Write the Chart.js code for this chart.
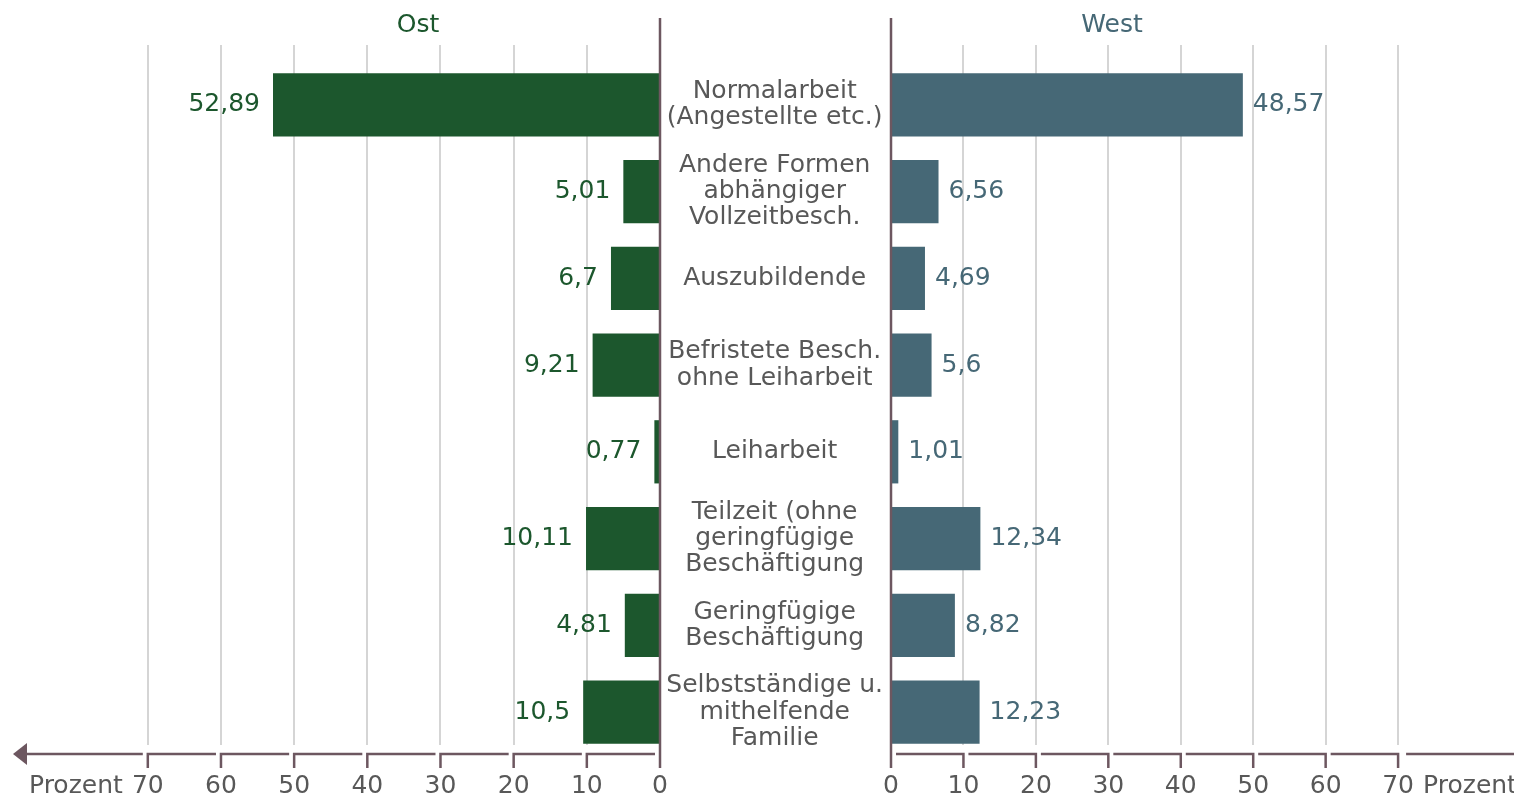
<!DOCTYPE html>
<html lang="de">
<head>
<meta charset="UTF-8">
<title>Beschäftigungsformen Ost / West</title>
<script src="https://cdn.jsdelivr.net/npm/chart.js"></script>
<style>
  body { margin: 0; background: #fff; }
  #wrap { position: relative; width: 1514px; height: 799px; overflow: hidden; }
  canvas { position: absolute; top: 0; }
  #ostChart { left: 0; }
  #westChart { left: 662px; }
</style>
</head>
<body>
<div id="wrap">
  <canvas id="ostChart" width="680" height="799"></canvas>
  <canvas id="westChart" width="852" height="799"></canvas>
</div>
<script>
const categories = [
  ['Normalarbeit', '(Angestellte etc.)'],
  ['Andere Formen', 'abhängiger', 'Vollzeitbesch.'],
  ['Auszubildende'],
  ['Befristete Besch.', 'ohne Leiharbeit'],
  ['Leiharbeit'],
  ['Teilzeit (ohne', 'geringfügige', 'Beschäftigung'],
  ['Geringfügige', 'Beschäftigung'],
  ['Selbstständige u.', 'mithelfende', 'Familie']
];
const ostValues = [52.89, 5.01, 6.7, 9.21, 0.77, 10.11, 4.81, 10.5];
const westValues = [48.57, 6.56, 4.69, 5.6, 1.01, 12.34, 8.82, 12.23];
const axisTicks = [0, 10, 20, 30, 40, 50, 60, 70];

const FONT = "'DejaVu Sans', sans-serif";
const FSIZE = 25;
const MAROON = '#6d5760';
const OST = '#1c572d';
const WEST = '#466876';
const GREY_TEXT = '#585858';
const GRID = '#d5d5d5';

const fmt = v => String(v).replace('.', ',');

// y is a linear index axis so the gridlines can run above the first bar
function yScale(show) {
  return {
    type: 'linear',
    reverse: true,
    offset: false,
    min: -0.69,
    max: 7.38,
    display: show,
    afterBuildTicks: s => { s.ticks = categories.map((_, i) => ({ value: i })); },
    afterFit: s => { if (show) s.width = 229; },
    grid: { display: false, offset: false },
    border: { display: false },
    ticks: {
      padding: 0,
      crossAlign: 'center',
      color: GREY_TEXT,
      font: { family: FONT, size: FSIZE, lineHeight: 1.05 },
      callback: v => categories[v]
    }
  };
}

function xScale(reverse, max) {
  return {
    type: 'linear',
    reverse: reverse,
    min: 0,
    max: max,
    afterBuildTicks: s => { s.ticks = axisTicks.map(v => ({ value: v })); },
    afterFit: s => { s.height = 54; },
    grid: {
      drawTicks: false,
      lineWidth: 2,
      color: c => (c.tick && c.tick.value === 0) ? 'rgba(0,0,0,0)' : GRID
    },
    border: { display: false },
    ticks: {
      padding: 26,
      color: GREY_TEXT,
      font: { family: FONT, size: FSIZE, lineHeight: 1.2 }
    }
  };
}

function decor(side, title, titleX, colour) {
  return {
    id: 'decor_' + side,
    afterDatasetsDraw(chart) {
      const ctx = chart.ctx;
      const meta = chart.getDatasetMeta(0);
      const vals = chart.data.datasets[0].data;
      ctx.save();
      ctx.font = FSIZE + 'px ' + FONT;
      ctx.fillStyle = colour;
      ctx.textBaseline = 'middle';
      meta.data.forEach((bar, i) => {
        if (side === 'ost') {
          ctx.textAlign = 'right';
          ctx.fillText(fmt(vals[i].x), bar.x - 13, bar.y);
        } else {
          ctx.textAlign = 'left';
          ctx.fillText(fmt(vals[i].x), bar.x + 10, bar.y);
        }
      });
      ctx.restore();
    },
    afterDraw(chart) {
      const ctx = chart.ctx;
      const xs = chart.scales.x;
      const y = chart.chartArea.bottom + 9;
      const px = axisTicks.map(v => xs.getPixelForValue(v));
      const dir = side === 'ost' ? -1 : 1;
      const last = px[px.length - 1];
      ctx.save();
      ctx.strokeStyle = MAROON;
      ctx.fillStyle = MAROON;
      ctx.lineWidth = 2.5;
      // zero line
      ctx.beginPath();
      ctx.moveTo(px[0], 18);
      ctx.lineTo(px[0], y + 14);
      ctx.stroke();
      // bracket segments
      for (let i = 0; i < px.length - 1; i++) {
        ctx.beginPath();
        ctx.moveTo(px[i] + dir * 5, y);
        ctx.lineTo(px[i + 1], y);
        ctx.lineTo(px[i + 1], y + 14);
        ctx.stroke();
      }
      ctx.beginPath();
      if (side === 'ost') {
        ctx.moveTo(last - 5, y);
        ctx.lineTo(24, y);
        ctx.stroke();
        ctx.beginPath();
        ctx.moveTo(13, y);
        ctx.lineTo(27, y - 11);
        ctx.lineTo(27, y + 11);
        ctx.closePath();
        ctx.fill();
      } else {
        ctx.moveTo(last + 8, y);
        ctx.lineTo(chart.width, y);
        ctx.stroke();
      }
      // Prozent
      const ly = xs.top + xs.options.ticks.padding + FSIZE * 1.2 / 2;
      ctx.font = FSIZE + 'px ' + FONT;
      ctx.fillStyle = GREY_TEXT;
      ctx.textBaseline = 'middle';
      if (side === 'ost') {
        ctx.textAlign = 'right';
        ctx.fillText('Prozent', last - 25, ly);
      } else {
        ctx.textAlign = 'left';
        ctx.fillText('Prozent', last + 25, ly);
      }
      // title
      ctx.fillStyle = colour;
      ctx.textAlign = 'center';
      ctx.fillText(title, titleX, 25);
      ctx.restore();
    }
  };
}

function makeChart(el, values, side, colour, reverse, max, padRight, title, titleX) {
  return new Chart(el, {
    type: 'bar',
    data: {
      datasets: [{
        data: values.map((v, i) => ({ x: v, y: i })),
        backgroundColor: colour,
        borderWidth: 0,
        barPercentage: 0.9,
        categoryPercentage: 0.81
      }]
    },
    options: {
      indexAxis: 'y',
      responsive: false,
      animation: false,
      layout: { padding: { top: 45, right: padRight, left: 0, bottom: 0 } },
      plugins: { legend: { display: false }, tooltip: { enabled: false } },
      scales: {
        x: xScale(reverse, max),
        y: yScale(side === 'west')
      }
    },
    plugins: [decor(side, title, titleX, colour)]
  });
}

makeChart(document.getElementById('ostChart'), ostValues, 'ost', OST, true, 90.2, 20, 'Ost', 418);
makeChart(document.getElementById('westChart'), westValues, 'west', WEST, false, 86.0, 0, 'West', 450);
</script>
</body>
</html>
